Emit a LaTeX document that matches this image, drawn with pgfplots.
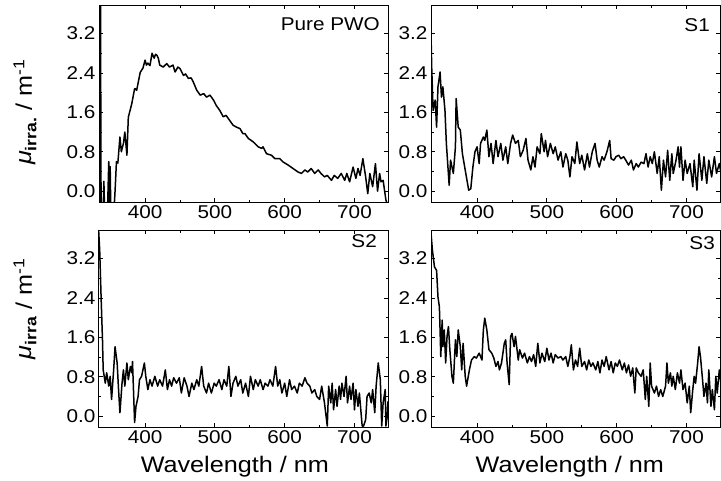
\documentclass[border=0pt]{standalone}
\usepackage{fontspec}
\setmainfont{Liberation Sans}[FakeStretch=1.12]
\usepackage{pgfplots}
\pgfplotsset{compat=1.18}

\tikzset{tag/.style={font=\fontsize{18.5}{20}\selectfont, inner sep=0pt, anchor=north east}}

\pgfplotsset{
  panel/.style={
    scale only axis,
    width=289pt, height=197pt,
    xmin=334, xmax=748,
    ymin=-0.22, ymax=3.78,
    xtick={400,500,600,700},
    ytick={0,0.8,1.6,2.4,3.2},
    minor x tick num=1,
    minor y tick num=1,
    tick align=inside,
    major tick length=4pt,
    minor tick length=2.5pt,
    axis line style={line width=1pt},
    every tick/.style={black, line width=0.8pt},
    /pgf/number format/assume math mode=true,
    yticklabel style={/pgf/number format/.cd, fixed, fixed zerofill, precision=1},
    tick label style={font=\fontsize{18.5}{20}\selectfont},
    label style={font=\fontsize{22.5}{24}\selectfont},
  },
  curve/.style={black, line width=1.5pt, line join=round, mark=none},
  ylab/.style={
    ylabel={\textit{μ}\textsubscript{\textbf{irra#1}} / m\textsuperscript{-1}},
  },
  wl/.style={
    xlabel={Wavelength / nm},
    xlabel style={at={(axis description cs:#1,0)}, anchor=north, inner sep=0pt, yshift=-29pt},
  },
}

\begin{document}
\begin{tikzpicture}
\path[use as bounding box] (0,0) rectangle (721pt,-480pt);

% Pure PWO
\begin{axis}[panel, ylab={.}, at={(99pt,-202pt)}, anchor=south west,
  ylabel style={at={(axis description cs:-0.256,0.457)}, anchor=center}]
\addplot[curve] coordinates {
(334,4.5)(335,-0.5)(336,4.5)(337,-0.5)(340,-0.4)(341,0.2)(342,-0.4)(346,-0.5)
(348,0.6)(349,-0.4)(350,0.5)(351,-0.5)(355,-0.5)(357,0.0)(359,0.6)(361,0.57)
(364,1.1)(366,0.8)(369,0.97)(371,1.2)(374,0.73)(376,1.5)(381,1.78)(385,2.08)
(386,2.08)(388,2.05)(393,2.41)(397,2.5)(400,2.66)(402,2.56)(404,2.6)(407,2.55)
(410,2.8)(413,2.7)(415,2.78)(417,2.76)(419,2.7)(421,2.56)(426,2.52)(431,2.59)
(435,2.52)(440,2.56)(443,2.42)(447,2.52)(450,2.49)(455,2.35)(458,2.38)(462,2.29)
(466,2.3)(469,2.22)(474,2.05)(479,1.95)(484,1.98)(488,1.91)(493,1.95)(498,1.85)
(502,1.74)(507,1.64)(512,1.51)(516,1.54)(521,1.44)(526,1.34)(531,1.30)(536,1.27)
(540,1.17)(543,1.17)(548,1.07)(555,1.0)(562,0.90)(567,0.87)(569,0.9)(574,0.76)
(581,0.73)(586,0.66)(593,0.66)(598,0.59)(605,0.53)(612,0.46)(619,0.39)(624,0.36)
(629,0.43)(633,0.39)(638,0.46)(643,0.36)(648,0.43)(652,0.36)(657,0.29)(661,0.32)
(667,0.22)(671,0.32)(676,0.26)(681,0.36)(686,0.22)(689,0.36)(693,0.19)(698,0.49)
(702,0.26)(705,0.46)(708,0.32)(712,0.66)(716,0.29)(719,-0.05)(722,0.36)(726,0.09)
(730,0.56)(733,0.0)(736,0.36)(738,0.19)(741,0.22)(745,-0.18)(748,-0.3)
};
\node[tag] at (rel axis cs:1,1) [xshift=-8pt, yshift=-12pt] {Pure PWO};
\end{axis}

% S1
\begin{axis}[panel, at={(431pt,-202pt)}, anchor=south west]
\addplot[curve] coordinates {
(333,3.6)(334,3.2)(335,2.52)(337,1.64)(340,1.85)(342,1.30)(344,2.12)(347,2.42)
(349,1.91)(351,2.12)(354,1.64)(356,0.97)(360,0.12)(362,0.63)(366,0.36)(369,0.9)
(370,1.88)(373,1.30)(376,1.24)(379,0.76)(383,0.43)(388,0.02)(391,0.05)(394,0.49)
(397,0.8)(400,0.9)(403,0.56)(405,0.97)(409,1.10)(411,1.03)(414,1.24)(417,0.7)
(420,0.97)(423,0.56)(427,1.03)(430,0.70)(434,0.97)(437,0.63)(441,0.9)(444,0.56)
(448,0.97)(451,1.14)(455,0.97)(459,1.03)(462,0.7)(466,0.83)(470,1.07)(473,0.63)
(477,0.43)(480,0.7)(483,0.49)(486,0.9)(490,0.76)(492,1.17)(496,0.8)(498,1.03)
(501,0.7)(505,0.97)(509,0.76)(512,0.9)(516,0.63)(520,0.8)(523,0.49)(527,0.76)
(530,0.63)(533,0.29)(536,0.7)(540,0.56)(543,1.0)(547,0.56)(550,0.73)(554,0.43)
(558,0.76)(561,0.49)(565,0.8)(569,0.97)(572,0.63)(575,0.49)(579,0.7)(582,0.63)
(586,0.8)(590,1.03)(592,0.66)(596,0.63)(599,0.7)(603,0.73)(606,0.66)(610,0.7)
(613,0.63)(617,0.53)(621,0.63)(624,0.43)(628,0.56)(631,0.49)(635,0.59)(639,0.56)
(642,0.76)(645,0.49)(648,0.7)(651,0.56)(654,0.8)(658,0.36)(661,0.7)(664,0.02)
(667,0.63)(670,0.29)(673,0.83)(676,0.22)(679,0.76)(681,0.36)(685,0.63)(688,0.9)
(690,0.49)(692,0.9)(695,0.22)(698,0.63)(701,0.36)(705,0.56)(709,0.09)(711,0.63)
(715,0.02)(718,0.76)(722,0.22)(725,0.7)(729,0.16)(732,0.63)(736,0.29)(740,0.7)
(743,0.36)(747,0.56)(749,0.4)
};
\node[tag] at (rel axis cs:1,1) [xshift=-10pt, yshift=-13pt] {S1};
\end{axis}

% S2
\begin{axis}[panel, ylab={}, wl=0.47, at={(99pt,-427pt)}, anchor=south west,
  ylabel style={at={(axis description cs:-0.256,0.6)}, anchor=center}]
\addplot[curve] coordinates {
(333,3.9)(335,3.37)(337,2.42)(339,1.55)(340,0.94)(343,0.67)(345,0.88)(348,0.61)
(350,0.81)(352,0.34)(355,0.94)(357,1.41)(360,1.08)(362,0.54)(364,0.07)(367,0.67)
(369,0.94)(371,0.61)(374,1.08)(376,0.74)(379,1.01)(381,0.88)(382,1.11)(385,-0.13)
(387,0.2)(390,0.40)(392,0.74)(395,0.81)(399,1.08)(401,0.81)(404,0.54)(407,0.74)
(410,0.61)(414,0.81)(418,0.61)(421,0.74)(425,0.61)(429,0.94)(432,0.54)(435,0.74)
(438,0.61)(441,0.78)(445,0.67)(449,0.78)(452,0.47)(456,0.78)(460,0.61)(463,0.40)
(467,0.67)(470,0.54)(474,0.74)(477,0.61)(481,1.01)(484,0.61)(488,0.47)(491,0.67)
(495,0.47)(499,0.67)(502,0.61)(506,0.74)(510,0.54)(513,0.74)(517,0.61)(520,1.01)
(523,0.40)(526,0.67)(530,0.81)(533,0.61)(537,0.74)(540,0.47)(544,0.67)(548,0.40)
(551,0.81)(555,0.54)(558,0.74)(562,0.61)(565,0.74)(569,0.54)(572,0.67)(576,0.61)
(579,0.74)(583,0.61)(587,1.01)(590,0.61)(593,0.74)(596,0.47)(600,0.67)(603,0.40)
(607,0.74)(610,0.54)(614,0.61)(618,0.47)(621,0.67)(625,0.61)(629,0.78)(632,0.67)
(636,0.61)(639,0.47)(643,0.54)(646,0.40)(650,0.34)(653,0.61)(657,0.27)(661,-0.2)
(663,0.61)(666,0.27)(668,0.67)(670,0.13)(673,0.54)(675,0.2)(678,0.61)(680,0.34)
(682,0.67)(685,0.40)(688,0.81)(690,0.27)(693,0.61)(695,0.34)(698,0.67)(700,0.13)
(702,0.54)(705,0.2)(707,0.47)(711,-0.2)(713,-0.2)(716,-0.07)(718,0.4)(721,0.47)
(724,0.27)(726,0.54)(729,0.07)(731,0.61)(734,1.08)(737,0.74)(739,-0.2)(741,0.27)
(744,0.54)(745,-0.2)(747,0.0)(748,0.3)
};
\node[tag] at (rel axis cs:1,1) [xshift=-11pt, yshift=-4pt] {S2};
\end{axis}

% S3
\begin{axis}[panel, wl=0.48, at={(431pt,-427pt)}, anchor=south west]
\addplot[curve] coordinates {
(333,3.9)(336,3.37)(339,3.03)(342,2.96)(344,2.42)(346,2.22)(347,1.75)(348,1.21)
(350,1.95)(351,1.41)(353,1.75)(355,1.08)(357,1.62)(359,1.82)(361,1.35)(364,0.81)
(366,0.67)(369,1.55)(371,1.21)(373,1.75)(376,1.41)(378,0.94)(380,1.48)(383,0.81)
(385,0.61)(389,0.94)(392,1.14)(396,1.21)(399,1.18)(403,1.28)(407,1.14)(409,1.75)
(411,1.99)(414,1.75)(417,1.35)(421,1.28)(424,1.18)(427,1.01)(430,1.11)(432,0.94)
(435,1.08)(439,1.48)(441,1.55)(443,1.08)(446,0.64)(448,1.62)(450,1.68)(453,1.41)
(455,1.62)(459,1.14)(461,1.35)(465,1.18)(468,1.28)(472,1.08)(475,1.21)(478,1.11)
(481,1.25)(484,1.01)(487,1.48)(490,1.08)(493,1.28)(497,1.11)(500,1.38)(503,1.14)
(506,1.28)(509,1.08)(512,1.25)(516,1.18)(520,1.21)(523,1.14)(527,1.21)(530,1.01)
(533,1.21)(535,1.45)(538,0.94)(541,1.14)(544,1.01)(547,1.38)(550,1.01)(554,1.11)
(557,0.94)(560,1.14)(563,1.01)(566,1.08)(570,0.94)(573,1.11)(576,0.88)(579,1.14)
(582,1.01)(585,1.21)(589,0.94)(592,1.11)(595,0.88)(598,1.08)(601,1.01)(604,1.14)
(608,0.94)(611,1.08)(614,0.88)(617,1.04)(620,0.81)(623,0.98)(626,0.47)(628,0.98)
(631,0.88)(635,0.81)(638,0.94)(641,0.34)(643,0.81)(646,0.20)(648,1.08)(650,0.61)
(654,0.47)(657,0.61)(660,0.40)(663,0.54)(666,0.40)(670,0.61)(672,1.08)(674,0.67)
(677,0.88)(679,0.61)(681,0.81)(684,0.54)(687,0.88)(690,0.67)(692,0.94)(695,0.54)
(698,0.67)(701,0.27)(704,0.61)(706,0.07)(709,0.54)(711,0.81)(713,0.67)(716,1.08)
(718,1.41)(720,1.21)(723,0.74)(725,0.40)(728,0.67)(730,0.27)(732,0.94)(735,0.20)
(737,0.54)(740,0.13)(742,0.81)(744,0.47)(747,0.94)(749,0.7)
};
\node[tag] at (rel axis cs:1,1) [xshift=-5pt, yshift=-6pt] {S3};
\end{axis}
\end{tikzpicture}
\end{document}
